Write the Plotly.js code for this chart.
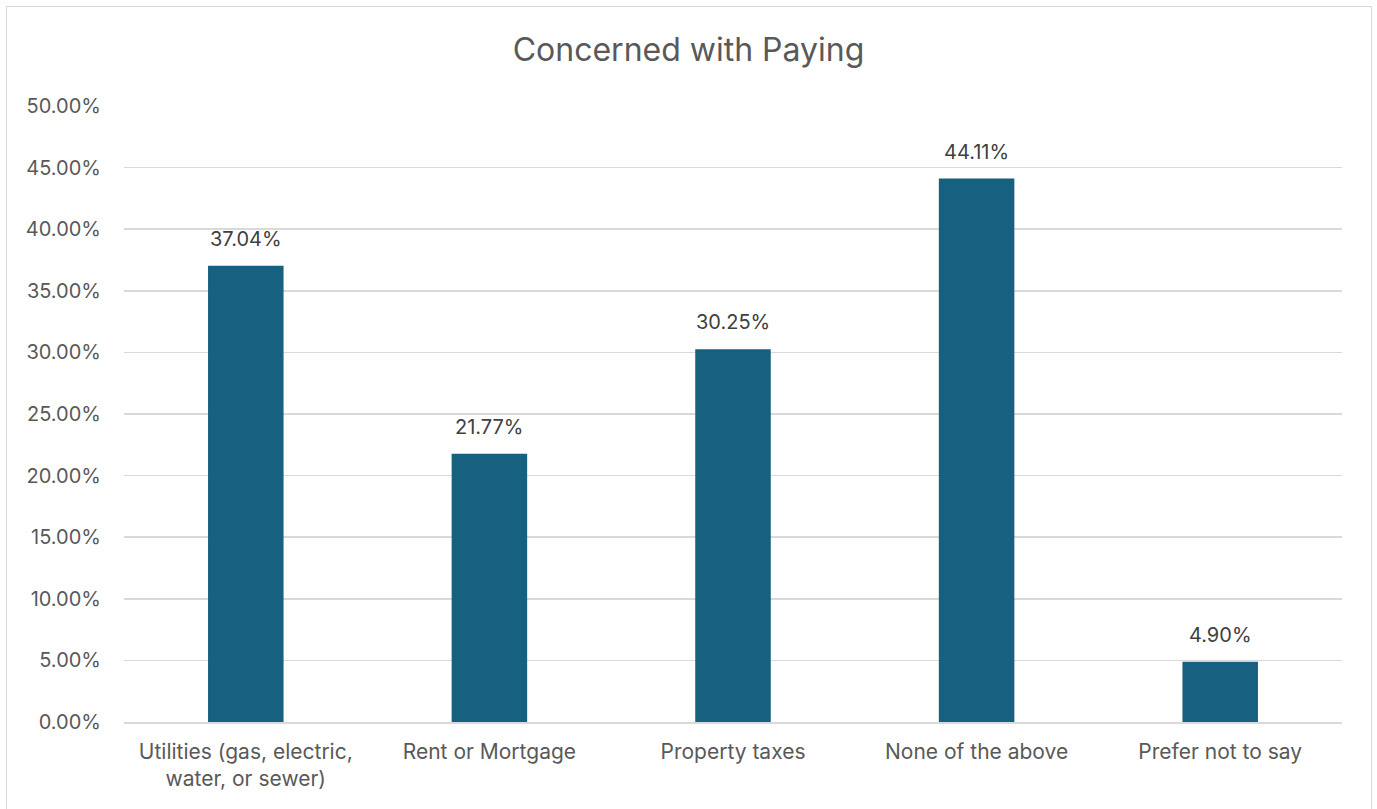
<!DOCTYPE html>
<html>
<head>
<meta charset="utf-8">
<script src="https://cdn.plot.ly/plotly-3.0.1.min.js"></script>
<style>
html,body{margin:0;padding:0;background:#fff;}
#chart{width:1377px;height:809px;position:absolute;left:0;top:0;}
#frame{position:absolute;left:6px;top:6px;width:1364px;height:820px;border:1px solid #d9d9d9;pointer-events:none;}
</style>
</head>
<body>
<div id="chart"></div>
<div id="frame"></div>
<script>
const categories = ["Utilities (gas, electric,<br>water, or sewer)", "Rent or Mortgage", "Property taxes", "None of the above", "Prefer not to say"];
const values = [0.3704, 0.2177, 0.3025, 0.4411, 0.0490];
const yTicks = [0, 0.05, 0.10, 0.15, 0.20, 0.25, 0.30, 0.35, 0.40, 0.45, 0.50];

const FONT = "Inter, 'Liberation Sans', sans-serif";
const trace = {
  type: "bar",
  x: categories,
  y: values,
  marker: {color: "#17607f"},
  width: 0.31,
  hoverinfo: "x+y"
};
const annotations = categories.map((c, i) => ({
  x: c, y: values[i], xref: "x", yref: "y",
  text: (values[i] * 100).toFixed(2) + "%",
  showarrow: false, yanchor: "bottom", yshift: 13,
  font: {family: FONT, size: 20, color: "#404040"}
}));
const layout = {
  width: 1377, height: 809,
  margin: {l: 124, r: 35, t: 106, b: 87},
  paper_bgcolor: "#ffffff", plot_bgcolor: "#ffffff",
  title: {text: "Concerned with Paying", x: 0.5, xanchor: "center", y: 0.938, yanchor: "middle",
          font: {family: FONT, size: 32, color: "#595959"}},
  font: {family: FONT, color: "#595959", size: 20},
  showlegend: false,
  annotations: annotations,
  xaxis: {showgrid: false, zeroline: false, showline: true, linecolor: "#d9d9d9", linewidth: 1.5,
          ticks: "", ticklabelstandoff: 10, tickfont: {family: FONT, size: 21, color: "#595959"}, fixedrange: true},
  yaxis: {range: [0, 0.5], tickvals: yTicks, tickformat: ".2%", showgrid: true, gridcolor: "#d9d9d9",
          gridwidth: 1.5, zeroline: false, showline: false, ticks: "", ticklabelstandoff: 22,
          tickfont: {family: FONT, size: 20, color: "#595959"}, fixedrange: true}
};
Plotly.newPlot("chart", [trace], layout, {displayModeBar: false, staticPlot: true});
</script>
</body>
</html>
